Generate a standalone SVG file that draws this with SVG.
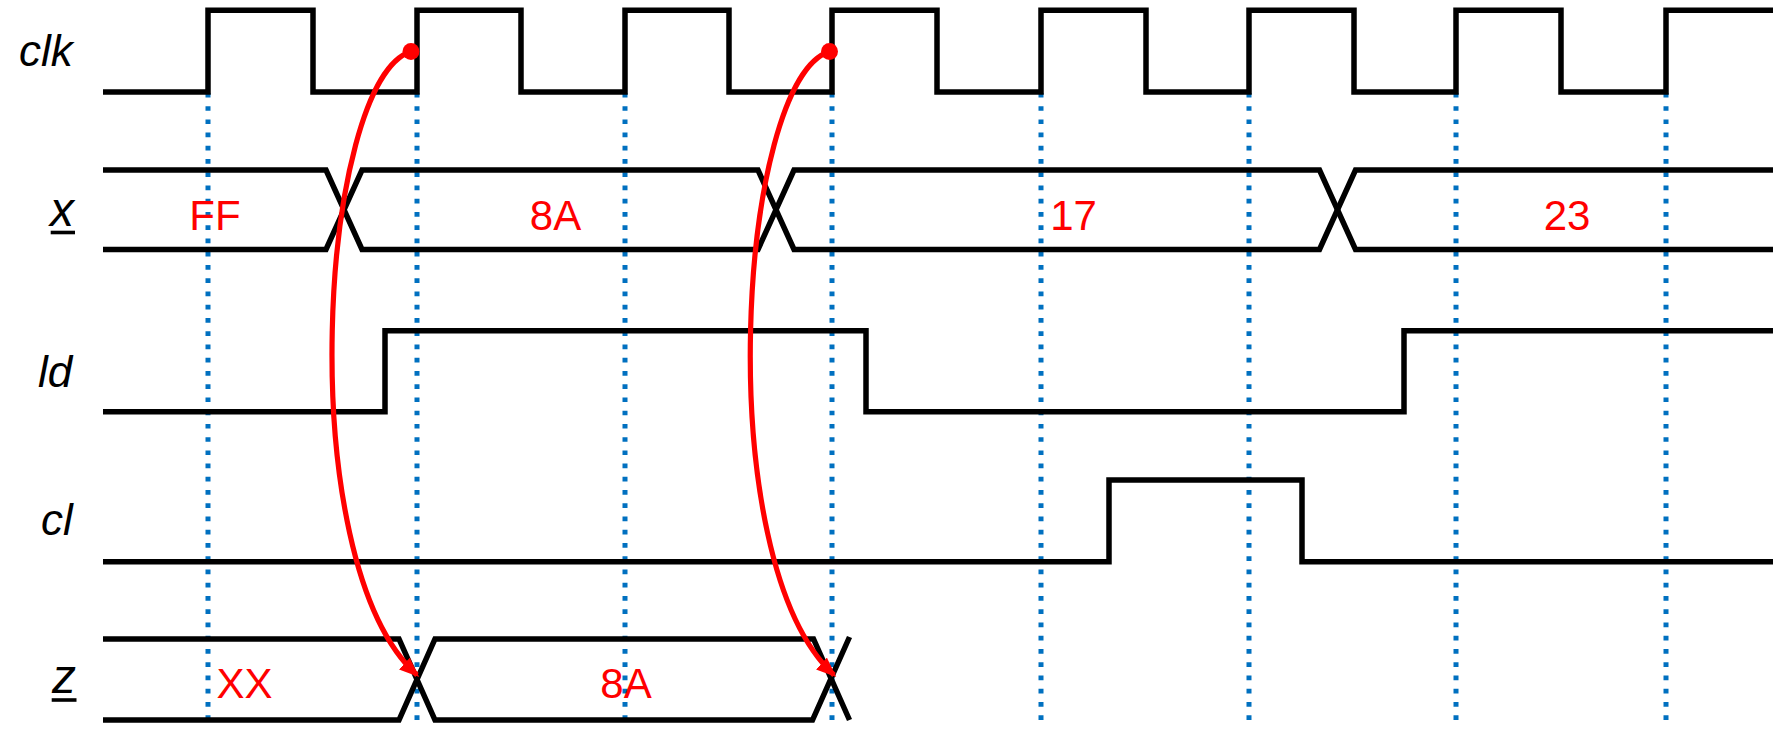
<svg xmlns="http://www.w3.org/2000/svg" width="1776" height="731" viewBox="0 0 1776 731">
<style>
.sig{fill:none;stroke:#000;stroke-width:5.5;stroke-linejoin:miter;stroke-linecap:butt}
.grid{stroke:#0070C0;stroke-width:5;stroke-dasharray:4.7 8.54;fill:none}
.lbl{font-family:"Liberation Sans",Arial,sans-serif;font-style:italic;font-size:44px;fill:#000}
.big{font-size:48px}
.val{font-family:"Liberation Sans",Arial,sans-serif;font-size:42px;fill:#FF0000;text-anchor:middle}
.arr{fill:none;stroke:#FF0000;stroke-width:5.2}
.ul{stroke:#000;stroke-width:3.6}
</style>
<defs>
<marker id="ah" viewBox="0 0 20 16" markerWidth="20" markerHeight="16" refX="17" refY="8" orient="auto" markerUnits="userSpaceOnUse">
<path d="M0,0 L20,8 L0,16 z" fill="#FF0000"/>
</marker>
</defs>
<rect width="1776" height="731" fill="#fff"/>
<g id="gridlines">
<path class="grid" d="M208,92.9V720M417,92.9V720M625,92.9V720M832,92.9V720M1041,92.9V720M1249,92.9V720M1456,92.9V720M1666,92.9V720"/>
</g>
<g id="clk">
<text class="lbl" x="19" y="66">clk</text>
<path class="sig" d="M103,92H208V10.3H313V92H417V10.3H521V92H625V10.3H729V92H832V10.3H937V92H1041V10.3H1146V92H1249V10.3H1354V92H1456V10.3H1561V92H1666V10.3H1773"/>
</g>
<g id="x">
<text class="lbl big" x="50" y="226">x</text>
<line class="ul" x1="50.7" y1="232.5" x2="75" y2="232.5"/>
<path class="sig" d="M103,170H326L362,249.5H758L794,170H1319.5L1355.5,249.5H1773"/>
<path class="sig" d="M103,249.5H326L362,170H758L794,249.5H1319.5L1355.5,170H1773"/>
<text class="val" x="215" y="230">FF</text>
<text class="val" x="555.5" y="230">8A</text>
<text class="val" x="1073.5" y="230">17</text>
<text class="val" x="1567" y="230">23</text>
</g>
<g id="ld">
<text class="lbl" x="38" y="387">ld</text>
<path class="sig" d="M103,411.7H385V330.7H866V411.7H1404V330.7H1773"/>
</g>
<g id="cl">
<text class="lbl" x="41" y="535">cl</text>
<path class="sig" d="M103,561.7H1109V480H1302V561.7H1773"/>
</g>
<g id="z">
<text class="lbl big" x="52" y="693">z</text>
<line class="ul" x1="51.7" y1="700" x2="76.5" y2="700"/>
<path class="sig" d="M103,639H399L435,720H812.5L849.5,637"/>
<path class="sig" d="M103,720H399L435,639H813.5L849.5,720"/>
<text class="val" x="244.5" y="698">XX</text>
<text class="val" x="626" y="698">8A</text>
</g>
<g id="connectors">
<circle cx="411" cy="51.5" r="8.5" fill="#FF0000"/>
<path class="arr" d="M411,51.5C320,80 290,560 417,675" marker-end="url(#ah)"/>
<circle cx="829.5" cy="51.5" r="8.5" fill="#FF0000"/>
<path class="arr" d="M829.5,51.5C738.5,80 708.5,560 834,675" marker-end="url(#ah)"/>
</g>
</svg>
